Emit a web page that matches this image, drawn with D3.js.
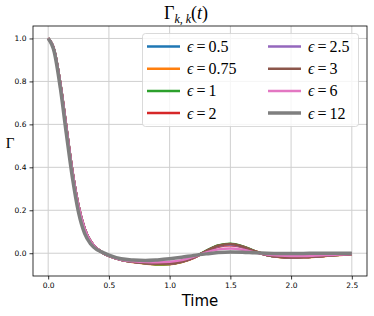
<!DOCTYPE html>
<html>
  <head>
    <meta charset="utf-8">
    <title>Gamma k,k(t)</title>
    <script src="https://d3js.org/d3.v7.min.js"></script>
    <style>
      body { margin: 0; background: #fff; }
      .tick text { font-family: "DejaVu Sans", sans-serif; font-size: 7.5px; fill: #000; }
      .tick line { stroke: #000; stroke-width: 0.8; }
      .math { font-family: "Liberation Serif", "DejaVu Serif", serif; fill: #000; }
    </style>
  </head>
  <body>
    <svg id="svg" width="374" height="316"></svg>
    <script>
      // data
      var times = [0, 0.05, 0.1, 0.15, 0.2, 0.25, 0.3, 0.35, 0.4, 0.45, 0.5, 0.6, 0.7, 0.8, 0.9, 1.0,
                   1.1, 1.2, 1.3, 1.4, 1.5, 1.6, 1.7, 1.8, 1.9, 2.0, 2.1, 2.2, 2.3, 2.4, 2.5];
      var eps05  = [1, 0.945, 0.79, 0.585, 0.38, 0.22, 0.115, 0.055, 0.022, 0.002, -0.012, -0.03, -0.04, -0.047, -0.051, -0.05,
                    -0.04, -0.02, 0.01, 0.035, 0.042, 0.031, 0.01, -0.008, -0.016, -0.019, -0.018, -0.015, -0.011, -0.007, -0.004];
      var eps075 = [1, 0.945, 0.79, 0.585, 0.38, 0.22, 0.115, 0.055, 0.022, 0.002, -0.012, -0.031, -0.041, -0.048, -0.052, -0.051,
                    -0.041, -0.021, 0.01, 0.035, 0.042, 0.031, 0.01, -0.008, -0.017, -0.02, -0.019, -0.016, -0.012, -0.008, -0.005];
      var eps1   = [1, 0.945, 0.79, 0.585, 0.38, 0.22, 0.115, 0.055, 0.022, 0.002, -0.012, -0.03, -0.04, -0.047, -0.051, -0.05,
                    -0.04, -0.019, 0.011, 0.036, 0.044, 0.032, 0.01, -0.008, -0.016, -0.019, -0.018, -0.015, -0.011, -0.007, -0.004];
      var eps2   = [1, 0.945, 0.79, 0.585, 0.38, 0.22, 0.115, 0.055, 0.022, 0.002, -0.012, -0.03, -0.04, -0.046, -0.049, -0.048,
                    -0.039, -0.02, 0.007, 0.03, 0.037, 0.028, 0.008, -0.008, -0.016, -0.019, -0.018, -0.015, -0.011, -0.007, -0.004];
      var eps25  = [1, 0.945, 0.79, 0.585, 0.38, 0.22, 0.115, 0.055, 0.022, 0.002, -0.012, -0.03, -0.04, -0.046, -0.049, -0.048,
                    -0.039, -0.02, 0.008, 0.032, 0.039, 0.029, 0.008, -0.008, -0.016, -0.019, -0.018, -0.015, -0.011, -0.007, -0.004];
      var eps3   = [1, 0.945, 0.79, 0.585, 0.38, 0.22, 0.115, 0.055, 0.022, 0.002, -0.012, -0.03, -0.04, -0.046, -0.049, -0.048,
                    -0.039, -0.019, 0.01, 0.035, 0.043, 0.031, 0.009, -0.008, -0.016, -0.019, -0.018, -0.015, -0.011, -0.007, -0.004];
      var eps6   = [1, 0.945, 0.79, 0.585, 0.38, 0.22, 0.115, 0.055, 0.022, 0.002, -0.012, -0.03, -0.037, -0.041, -0.042, -0.04,
                    -0.032, -0.016, 0.004, 0.018, 0.022, 0.016, 0.004, -0.006, -0.011, -0.013, -0.013, -0.011, -0.008, -0.006, -0.004];
      var eps12  = [1, 0.937, 0.77, 0.555, 0.35, 0.19, 0.092, 0.043, 0.017, 0.004, -0.009, -0.026, -0.032, -0.034, -0.031, -0.026,
                    -0.019, -0.01, -0.003, 0.003, 0.006, 0.005, 0.002, 0, -0.001, -0.001, -0.001, 0, 0, 0, 0];
      var series = [eps05, eps075, eps1, eps2, eps25, eps3, eps6, eps12];
      var epsLabels = ["0.5", "0.75", "1", "2", "2.5", "3", "6", "12"];
      var colours = ["#1f77b4", "#ff7f0e", "#2ca02c", "#d62728", "#9467bd", "#8c564b", "#e377c2", "#7f7f7f"];
      var xTicks = [0, 0.5, 1, 1.5, 2, 2.5];
      var yTicks = [0, 0.2, 0.4, 0.6, 0.8, 1.0];

      var svg = d3.select("#svg");
      var plotLeft = 33, plotRight = 367, plotTop = 26, plotBottom = 276;
      var x = d3.scaleLinear().domain([-0.125, 2.625]).range([plotLeft, plotRight]);
      var y = d3.scaleLinear().domain([-0.106, 1.058]).range([plotBottom, plotTop]);

      // grid
      var grid = svg.append("g");
      grid.selectAll(".gx").data(xTicks).enter().append("line")
        .attr("x1", function(d) { return x(d); }).attr("x2", function(d) { return x(d); })
        .attr("y1", plotTop).attr("y2", plotBottom)
        .attr("stroke", "#cfcfcf").attr("stroke-width", 1);
      grid.selectAll(".gy").data(yTicks).enter().append("line")
        .attr("y1", function(d) { return y(d); }).attr("y2", function(d) { return y(d); })
        .attr("x1", plotLeft).attr("x2", plotRight)
        .attr("stroke", "#cfcfcf").attr("stroke-width", 1);

      // curves
      var line = d3.line()
        .x(function(d, i) { return x(times[i]); })
        .y(function(d) { return y(d); })
        .curve(d3.curveMonotoneX);
      svg.append("g").selectAll("path")
          .data(series)
        .enter().append("path")
          .attr("d", line)
          .attr("fill", "none")
          .attr("stroke", function(d, i) { return colours[i]; })
          .attr("stroke-width", function(d, i) { return i === 7 ? 3.5 : 2.5; })
          .attr("stroke-linejoin", "round");

      // axes
      svg.append("g")
        .attr("transform", "translate(0," + plotBottom + ")")
        .call(d3.axisBottom(x).tickValues(xTicks).tickFormat(d3.format(".1f")).tickSizeInner(3.5).tickSizeOuter(0).tickPadding(3))
        .call(function(g) { g.select(".domain").remove(); });
      svg.append("g")
        .attr("transform", "translate(" + plotLeft + ",0)")
        .call(d3.axisLeft(y).tickValues(yTicks).tickFormat(d3.format(".1f")).tickSizeInner(3.5).tickSizeOuter(0).tickPadding(3))
        .call(function(g) { g.select(".domain").remove(); });
      svg.append("rect")
        .attr("x", plotLeft).attr("y", plotTop).attr("width", plotRight - plotLeft).attr("height", plotBottom - plotTop)
        .attr("fill", "none").attr("stroke", "#000").attr("stroke-width", 0.8);

      // legend
      var legend = svg.append("g");
      legend.append("rect")
        .attr("x", 142.5).attr("y", 33.5).attr("width", 216).attr("height", 93).attr("rx", 3)
        .attr("fill", "#fff").attr("fill-opacity", 0.8).attr("stroke", "#d0d0d0").attr("stroke-width", 0.8);
      var items = legend.selectAll(".item")
          .data(epsLabels)
        .enter().append("g")
          .attr("transform", function(d, i) {
            return "translate(" + (i < 4 ? 147 : 268) + "," + (46.5 + (i % 4) * 22.2) + ")";
          });
      items.append("line")
        .attr("x1", 0).attr("x2", 33)
        .attr("stroke", function(d, i) { return colours[i]; })
        .attr("stroke-width", function(d, i) { return i === 7 ? 3.5 : 2.5; });
      var labels = items.append("text")
        .attr("class", "math")
        .attr("x", 40).attr("y", 5.5)
        .style("font-size", "16px");
      labels.append("tspan").style("font-style", "italic").text("\u03f5");
      labels.append("tspan").attr("dx", 3).text("=");
      labels.append("tspan").attr("dx", 3).text(function(d) { return d; });

      // title and axis labels
      var title = svg.append("text").attr("class", "math").attr("x", 164).attr("y", 19).style("font-size", "18px");
      title.append("tspan").text("\u0393");
      title.append("tspan").attr("dy", 4).style("font-size", "12px").style("font-style", "italic").text("k, k");
      title.append("tspan").attr("dy", -4).text("(");
      title.append("tspan").style("font-style", "italic").text("t");
      title.append("tspan").text(")");
      svg.append("text").attr("class", "math")
        .attr("x", 10).attr("y", 148).attr("text-anchor", "middle")
        .style("font-size", "15px").text("\u0393");
      svg.append("text")
        .attr("x", (plotLeft + plotRight) / 2).attr("y", 305.5).attr("text-anchor", "middle")
        .style("font-family", "DejaVu Sans, sans-serif").style("font-size", "15px")
        .text("Time");
    </script>
  </body>
</html>
